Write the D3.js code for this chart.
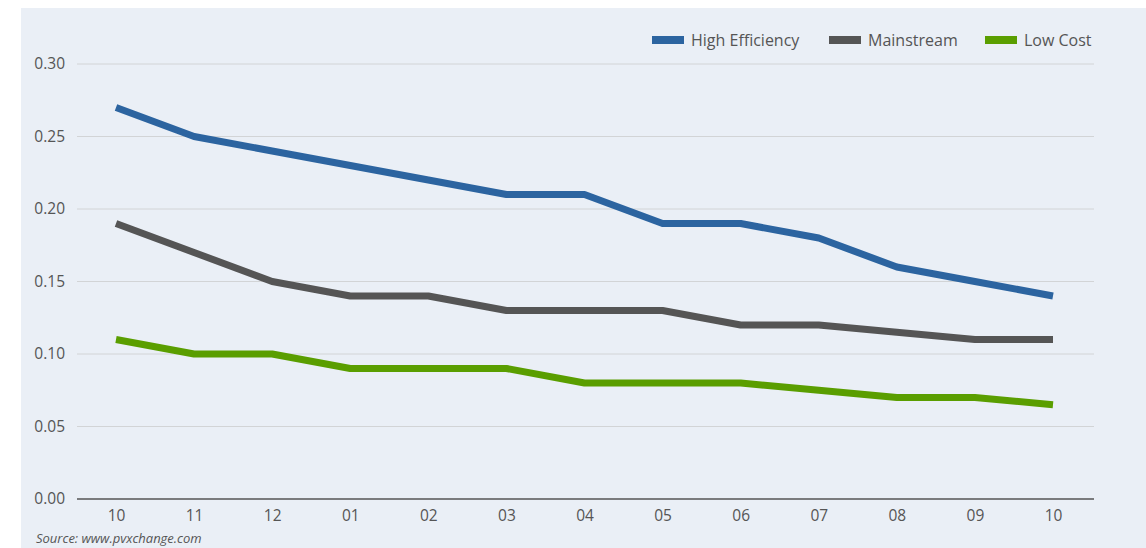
<!DOCTYPE html>
<html>
<head>
<meta charset="utf-8">
<script src="https://cdn.jsdelivr.net/npm/d3@7"></script>
<style>
  html, body { margin: 0; padding: 0; background: #ffffff; }
  svg { display: block; font-family: "Open Sans", sans-serif; }
</style>
</head>
<body>
<svg id="chart" width="1146" height="548"></svg>
<script>
// Module price index by month (EUR/Wp)
const months = ["10", "11", "12", "01", "02", "03", "04", "05", "06", "07", "08", "09", "10"];
const highEfficiency = [0.27, 0.25, 0.24, 0.23, 0.22, 0.21, 0.21, 0.19, 0.19, 0.18, 0.16, 0.15, 0.14];
const mainstream     = [0.19, 0.17, 0.15, 0.14, 0.14, 0.13, 0.13, 0.13, 0.12, 0.12, 0.115, 0.11, 0.11];
const lowCost        = [0.11, 0.10, 0.10, 0.09, 0.09, 0.09, 0.08, 0.08, 0.08, 0.075, 0.07, 0.07, 0.065];
const yTicks = [0, 0.05, 0.10, 0.15, 0.20, 0.25, 0.30];
const seriesNames = ["High Efficiency", "Mainstream", "Low Cost"];
const seriesColors = ["#2c64a0", "#555555", "#5a9e00"];

const series = [highEfficiency, mainstream, lowCost].map((values, i) => ({
  name: seriesNames[i], color: seriesColors[i], values
}));

const svg = d3.select("#chart");
const W = 1146, H = 548;
const FONT = "15.5px";

// panel background
svg.append("rect")
  .attr("x", 21).attr("y", 8).attr("width", W - 21).attr("height", H - 8)
  .attr("fill", "#eaeff6");

const plotLeft = 77, plotRight = 1094;
const x = d3.scalePoint().domain(d3.range(months.length)).range([116, 1053]);
const y = d3.scaleLinear().domain([0, 0.30]).range([499, 64]);

// horizontal grid
svg.append("g")
  .selectAll("line")
  .data(yTicks.filter(t => t > 0))
  .join("line")
  .attr("x1", plotLeft).attr("x2", plotRight)
  .attr("y1", d => y(d)).attr("y2", d => y(d))
  .attr("stroke", "#d2d4d6").attr("stroke-width", 1);

// y axis labels
const yAxis = d3.axisLeft(y).tickValues(yTicks).tickFormat(d3.format(".2f")).tickSize(0).tickPadding(0);
const gy = svg.append("g").attr("transform", `translate(65,0)`).call(yAxis);
gy.select(".domain").remove();
gy.selectAll("text").attr("fill", "#555").style("font-size", FONT).style("font-family", "Open Sans, sans-serif");

// x axis
const xAxis = d3.axisBottom(x).tickFormat(i => months[i]).tickSize(0).tickPadding(11);
const gx = svg.append("g").attr("transform", `translate(0,${y(0)})`).call(xAxis);
gx.select(".domain").remove();
gx.selectAll("text").attr("fill", "#555").style("font-size", FONT).style("font-family", "Open Sans, sans-serif");

svg.append("line")
  .attr("x1", plotLeft).attr("x2", plotRight)
  .attr("y1", y(0)).attr("y2", y(0))
  .attr("stroke", "#555").attr("stroke-width", 1.5);

// series lines
const line = d3.line().x((d, i) => x(i)).y(d => y(d));
svg.append("g")
  .selectAll("path")
  .data(series)
  .join("path")
  .attr("d", d => line(d.values))
  .attr("fill", "none")
  .attr("stroke", d => d.color)
  .attr("stroke-width", 7)
  .attr("stroke-linejoin", "round");

// legend
const legendX = [652, 829, 985];
const lg = svg.append("g")
  .selectAll("g")
  .data(series)
  .join("g")
  .attr("transform", (d, i) => `translate(${legendX[i]},40)`);
lg.append("rect").attr("x", 0).attr("y", -4).attr("width", 32).attr("height", 8).attr("fill", d => d.color);
lg.append("text").attr("x", 39).attr("y", 5.5)
  .attr("fill", "#555").style("font-size", "16px")
  .text(d => d.name);

// source note
svg.append("text")
  .attr("x", 36).attr("y", 543)
  .attr("fill", "#555").style("font-size", "13px").style("font-style", "italic")
  .text("Source: www.pvxchange.com");
</script>
</body>
</html>
